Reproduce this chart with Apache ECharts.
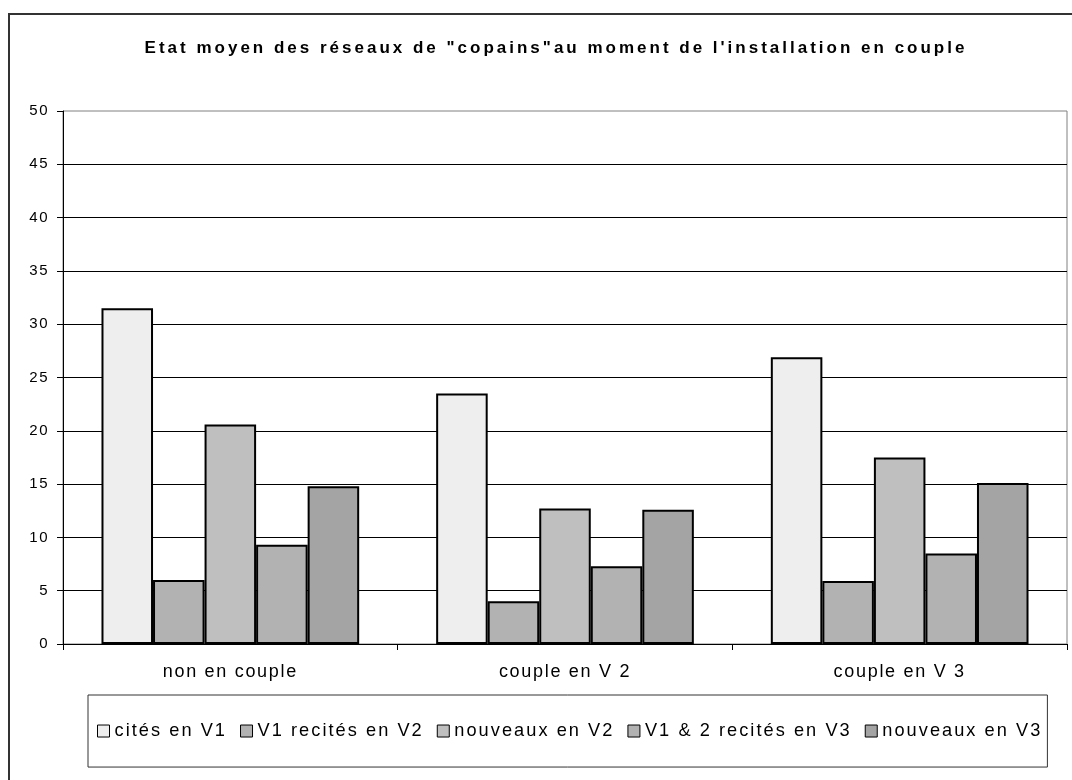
<!DOCTYPE html>
<html>
<head>
<meta charset="utf-8">
<style>
  html, body { margin: 0; padding: 0; background: #fff; }
  #chart { width: 1072px; height: 780px; }
</style>
<script src="https://cdn.jsdelivr.net/npm/echarts@6/dist/echarts.min.js"></script>
</head>
<body>
<div id="chart"></div>
<script>
const categories = ['non en couple', 'couple en V 2', 'couple en V 3'];
const seriesNames = ['cités en V1', 'V1 recités en V2', 'nouveaux en V2', 'V1 & 2 recités en V3', 'nouveaux en V3'];
const citesV1 = [31.5, 23.5, 26.9];
const v1RecitesV2 = [6.0, 4.0, 5.9];
const nouveauxV2 = [20.6, 12.7, 17.5];
const v12RecitesV3 = [9.3, 7.3, 8.5];
const nouveauxV3 = [14.8, 12.6, 15.1];
const barColors = ['#eeeeee', '#b2b2b2', '#bfbfbf', '#b2b2b2', '#a4a4a4'];

// the original Excel chart uses spaced-out lettering; canvas supports letterSpacing
const spacingFor = (font) => {
  if (/bold/.test(font)) return '3px';
  if (/18\.2px/.test(font)) return '2.05px';
  if (/18px/.test(font)) return '1.7px';
  if (/15px/.test(font)) return '1.5px';
  return '0px';
};
const proto = CanvasRenderingContext2D.prototype;
const origFill = proto.fillText;
const origMeasure = proto.measureText;
proto.fillText = function (...args) {
  this.letterSpacing = spacingFor(this.font);
  return origFill.apply(this, args);
};
proto.measureText = function (text) {
  this.letterSpacing = spacingFor(this.font);
  return origMeasure.call(this, text);
};

const font = 'Liberation Sans, Arial, sans-serif';
const values = [citesV1, v1RecitesV2, nouveauxV2, v12RecitesV3, nouveauxV3];

const chart = echarts.init(document.getElementById('chart'), null, { renderer: 'canvas' });

chart.setOption({
  backgroundColor: '#fff',
  animation: false,
  textStyle: { fontFamily: font },
  title: {
    text: 'Etat moyen des réseaux de "copains"au moment de l\'installation en couple',
    left: 556,
    top: 38,
    textAlign: 'center',
    padding: 0,
    textStyle: { fontFamily: font, fontSize: 17, fontWeight: 'bold', color: '#000' }
  },
  graphic: [
    {
      type: 'rect',
      silent: true,
      z: -10,
      shape: { x: 9, y: 14, width: 1100, height: 800 },
      style: { fill: 'none', stroke: '#333', lineWidth: 2 }
    }
  ],
  grid: {
    left: 63,
    right: 5,
    top: 111,
    bottom: 136,
    show: true,
    borderColor: '#808080',
    borderWidth: 1,
    backgroundColor: '#fff'
  },
  legend: {
    data: seriesNames,
    left: 88,
    top: 695,
    orient: 'horizontal',
    padding: [26, 5, 26, 9],
    itemWidth: 12,
    itemHeight: 12,
    itemGap: 13,
    borderColor: '#333',
    borderWidth: 1,
    icon: 'rect',
    itemStyle: { borderColor: '#000', borderWidth: 1 },
    textStyle: { fontFamily: font, fontSize: 18.2, color: '#000' }
  },
  xAxis: {
    type: 'category',
    data: categories,
    axisLine: { lineStyle: { color: '#000', width: 1 } },
    axisTick: { show: true, length: 6, lineStyle: { color: '#000' } },
    axisLabel: { color: '#000', fontSize: 18, fontFamily: font, margin: 18 },
    splitLine: { show: false }
  },
  yAxis: {
    type: 'value',
    min: 0,
    max: 50,
    interval: 5,
    axisLine: { show: true, lineStyle: { color: '#000', width: 1 } },
    axisTick: { show: true, length: 6, lineStyle: { color: '#000' } },
    axisLabel: { color: '#000', fontSize: 15, fontFamily: font, margin: 14 },
    splitLine: { show: true, showMaxLine: false, lineStyle: { color: '#000', width: 1 } }
  },
  series: seriesNames.map((name, i) => ({
    name,
    type: 'bar',
    data: values[i],
    barGap: '0%',
    barCategoryGap: '23%',
    itemStyle: { color: barColors[i], borderColor: '#000', borderWidth: 2 }
  }))
});
</script>
</body>
</html>
